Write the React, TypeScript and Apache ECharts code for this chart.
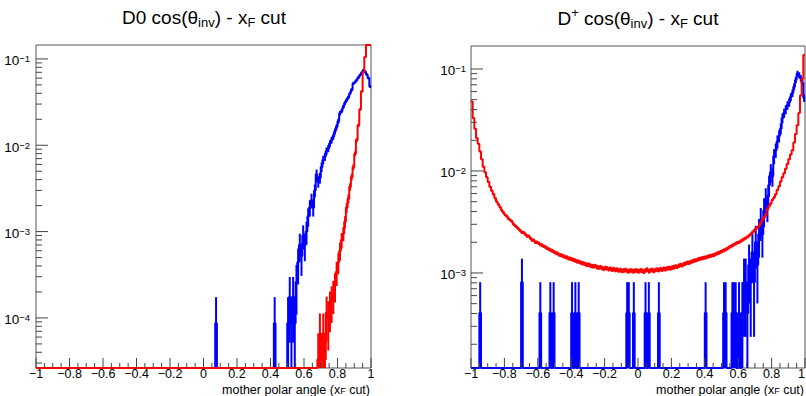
import React, { useEffect, useRef } from "react";
import * as echarts from "echarts";

// ---------- binning ----------
const X_MIN = -1;
const X_MAX = 1;
const BIN_WIDTH = 0.01;
const N_BINS = 200;

// ---------- tick labels ----------
const xTickLabels = [-1, -0.8, -0.6, -0.4, -0.2, 0, 0.2, 0.4, 0.6, 0.8, 1];
const leftYTickLabels = [1e-4, 1e-3, 1e-2, 1e-1];
const rightYTickLabels = [1e-3, 1e-2, 1e-1];

// ---------- texts ----------
const leftTitle = "D0 cos(θ{sub|inv}) - x{sub|F} cut";
const rightTitle = "D{sup|+} cos(θ{sub|inv}) - x{sub|F} cut";
const xAxisTitle = "mother polar angle (x{sub|F} cut)";

// ---------- left panel (D0) ----------
const leftYRange = [2.63e-5, 0.145];
// blue: isolated single-bin entries [bin low edge, value]
const leftBlueSpikes = [
  [0.07, 8.7e-5],
  [0.42, 8.7e-5],
];
const leftBlueStart = 0.5;
const leftBlueValues = [
  8.7e-5, 1.75e-4, 8.7e-5, 1.75e-4, 8.7e-5, 2.6e-4, 4.4e-4, 7.0e-4, 5.2e-4, 9.0e-4,
  7.0e-4, 1.0e-3, 1.5e-3, 1.9e-3, 2.3e-3, 1.9e-3, 3.0e-3, 4.6e-3, 3.8e-3, 4.2e-3,
  5.6e-3, 6.8e-3, 7.4e-3, 8.6e-3, 9.2e-3, 1.05e-2, 1.15e-2, 1.26e-2, 1.45e-2, 1.64e-2,
  1.9e-2, 2.35e-2, 2.5e-2, 2.8e-2, 3.1e-2, 3.35e-2, 3.6e-2, 4.0e-2, 4.4e-2, 5.2e-2,
  5.4e-2, 5.7e-2, 6.1e-2, 6.5e-2, 6.9e-2, 7.4e-2, 7.1e-2, 6.6e-2, 6.0e-2, 4.8e-2,
];
const leftBlueUnit = 8.7e-5; // value of one entry
const leftRedStart = 0.68;
const leftRedValues = [
  3.3e-5, 6.6e-5, 3.3e-5, 6.6e-5, 3.3e-5, 1.15e-4, 9.9e-5, 1.35e-4, 1.6e-4, 1.9e-4,
  2.4e-4, 3.4e-4, 4.4e-4, 6.0e-4, 8.0e-4, 9.5e-4, 1.3e-3, 1.9e-3, 2.4e-3, 3.3e-3,
  4.3e-3, 5.6e-3, 8.0e-3, 1.15e-2, 1.7e-2, 2.6e-2, 4.2e-2, 7.0e-2, 1.05e-1, 1.6e-1,
  2.0e-1, 2.2e-1,
];
const leftRedUnit = 3.3e-5;

// ---------- right panel (D+) ----------
const rightYRange = [1.17e-4, 0.168];
const rightRedStart = -1;
const rightRedValues = [
  0.048, 0.033, 0.026, 0.021, 0.0185, 0.0155, 0.013, 0.011, 0.0097, 0.0087,
  0.0078, 0.007, 0.0064, 0.0059, 0.0054, 0.005, 0.0047, 0.0044, 0.0041, 0.0039,
  0.0037, 0.0036, 0.0034, 0.0033, 0.0032, 0.003, 0.0029, 0.0028, 0.0027, 0.0026,
  0.0025, 0.0025, 0.0024, 0.0023, 0.0023, 0.0022, 0.0021, 0.0021, 0.002, 0.002,
  0.00196, 0.0019, 0.00187, 0.00183, 0.0018, 0.00175, 0.00172, 0.00168, 0.00165, 0.00162,
  0.00158, 0.00156, 0.00152, 0.0015, 0.00148, 0.00146, 0.00143, 0.00142, 0.00139, 0.00138,
  0.00136, 0.00134, 0.00132, 0.0013, 0.00129, 0.00127, 0.00125, 0.00124, 0.00122, 0.0012,
  0.00121, 0.00118, 0.00117, 0.00116, 0.00117, 0.00114, 0.00113, 0.00114, 0.00112, 0.0011,
  0.00112, 0.00111, 0.00109, 0.0011, 0.00108, 0.00109, 0.00107, 0.00108, 0.00106, 0.00107,
  0.00105, 0.00106, 0.00107, 0.00105, 0.00104, 0.00106, 0.00105, 0.00104, 0.00106, 0.00105,
  0.00104, 0.00106, 0.00105, 0.00103, 0.00106, 0.00108, 0.00104, 0.00106, 0.00107, 0.00105,
  0.00107, 0.00108, 0.00107, 0.00109, 0.00108, 0.0011, 0.00109, 0.00111, 0.00112, 0.00111,
  0.00113, 0.00114, 0.00116, 0.00115, 0.00118, 0.0012, 0.00119, 0.00122, 0.00124, 0.00126,
  0.00126, 0.00128, 0.0013, 0.00132, 0.00133, 0.00135, 0.00137, 0.00138, 0.0014, 0.00141,
  0.00142, 0.00144, 0.00146, 0.00147, 0.00149, 0.0015, 0.00153, 0.00156, 0.00158, 0.00161,
  0.00164, 0.00167, 0.0017, 0.00174, 0.00178, 0.00182, 0.00186, 0.0019, 0.00194, 0.00198,
  0.002, 0.00205, 0.0021, 0.00215, 0.0022, 0.00225, 0.00232, 0.0024, 0.0025, 0.0026,
  0.0027, 0.0028, 0.0029, 0.0031, 0.0033, 0.0035, 0.0037, 0.0042, 0.0045, 0.0048,
  0.0052, 0.0055, 0.0059, 0.0065, 0.0071, 0.0079, 0.0087, 0.0095, 0.0105, 0.0117,
  0.013, 0.0145, 0.016, 0.019, 0.023, 0.028, 0.037, 0.055, 0.08, 0.137,
];
const rightRedUnit = 3e-6;
const rightBlueSpikes = [
  [-0.95, 4.06e-4], [-0.7, 8.1e-4], [-0.59, 4.06e-4], [-0.53, 4.06e-4], [-0.51, 4.06e-4],
  [-0.4, 4.06e-4], [-0.38, 4.06e-4], [-0.36, 4.06e-4], [-0.07, 4.06e-4], [-0.06, 4.06e-4],
  [-0.03, 4.06e-4], [0.04, 4.06e-4], [0.06, 4.06e-4], [0.12, 4.06e-4], [0.4, 4.06e-4],
  [0.51, 4.06e-4], [0.52, 4.06e-4], [0.56, 4.06e-4], [0.57, 4.06e-4], [0.58, 4.06e-4],
  [0.6, 4.06e-4],
];
const rightBlueStart = 0.62;
const rightBlueValues = [
  4.06e-4, 8.1e-4, 8.1e-4, 4.06e-4, 1.2e-3, 8.1e-4, 1.6e-3, 8.1e-4,
  2.0e-3, 1.2e-3, 2.4e-3, 3.2e-3, 2.4e-3, 4.1e-3, 5.3e-3, 4.5e-3, 7.3e-3, 9.7e-3,
  8.9e-3, 1.4e-2, 1.6e-2, 1.95e-2, 2.2e-2, 2.6e-2, 3.3e-2, 3.7e-2, 4.0e-2, 4.4e-2,
  4.7e-2, 5.3e-2, 5.8e-2, 6.7e-2, 7.8e-2, 9.0e-2, 8.7e-2, 8.1e-2, 7.3e-2, 5.2e-2,
];
const rightBlueUnit = 4.06e-4;

// ---------- styling ----------
const FONT = '"Liberation Sans", Arial, Helvetica, sans-serif';
const FRAME_COLOR = "#555555";
const TICK_COLOR = "#444444";
const BLUE = "#0000ff";
const RED = "#ff0000";

const binIndex = (x: number) => Math.round((x - X_MIN) / BIN_WIDTH);

function buildBins(start: number | null, values: number[], spikes: number[][]) {
  const bins = new Array(N_BINS).fill(0);
  if (start !== null) {
    const s = binIndex(start);
    values.forEach((v, i) => {
      bins[s + i] = v;
    });
  }
  spikes.forEach(([x, v]) => {
    bins[binIndex(x)] = v;
  });
  return bins;
}

function histSeries(idx: number, range: number[], bins: number[], unit: number, color: string, z: number) {
  const clamp = (v: number) => Math.min(Math.max(v, range[0]), range[1]);
  const stepPts = bins.map((v, i) => [X_MIN + i * BIN_WIDTH, clamp(v)]);
  stepPts.push([X_MAX, clamp(bins[N_BINS - 1])]);
  const errs: number[][] = [];
  bins.forEach((v, i) => {
    if (v > 0) {
      const e = Math.sqrt(v / unit) * unit;
      errs.push([X_MIN + (i + 0.5) * BIN_WIDTH, clamp(v - e), clamp(v + e)]);
    }
  });
  return [
    {
      type: "line",
      xAxisIndex: idx,
      yAxisIndex: idx,
      data: stepPts,
      step: "end",
      showSymbol: false,
      symbol: "none",
      lineStyle: { color, width: 2 },
      itemStyle: { color },
      clip: true,
      silent: true,
      z,
    },
    {
      type: "custom",
      xAxisIndex: idx,
      yAxisIndex: idx,
      coordinateSystem: "cartesian2d",
      data: errs,
      encode: { x: 0, y: [1, 2] },
      silent: true,
      z,
      renderItem: (_params: any, api: any) => {
        const x = api.value(0);
        const p1 = api.coord([x, api.value(1)]);
        const p2 = api.coord([x, api.value(2)]);
        return {
          type: "line",
          shape: { x1: p1[0], y1: p1[1], x2: p2[0], y2: p2[1] },
          style: { stroke: color, lineWidth: 2 },
        };
      },
    },
  ];
}

function tickSeries(idx: number, range: number[]) {
  const xTicks: number[][] = [];
  for (let k = 0; k <= 40; k++) {
    xTicks.push([X_MIN + k * 0.05, range[0], k % 4 === 0 ? 10 : 5]);
  }
  const yTicks: number[][] = [];
  const n0 = Math.floor(Math.log10(range[0]));
  const n1 = Math.ceil(Math.log10(range[1]));
  for (let n = n0; n <= n1; n++) {
    for (let k = 1; k <= 9; k++) {
      const v = k * Math.pow(10, n);
      if (v >= range[0] && v <= range[1]) yTicks.push([X_MIN, v, k === 1 ? 12 : 6]);
    }
  }
  return [
    {
      type: "custom",
      xAxisIndex: idx,
      yAxisIndex: idx,
      coordinateSystem: "cartesian2d",
      data: xTicks,
      encode: { x: 0, y: 1 },
      silent: true,
      z: 10,
      renderItem: (params: any, api: any) => {
        const cs = params.coordSys;
        const px = api.coord([api.value(0), range[0]])[0];
        const by = cs.y + cs.height;
        return {
          type: "line",
          shape: { x1: px, y1: by, x2: px, y2: by - api.value(2) },
          style: { stroke: TICK_COLOR, lineWidth: 1 },
        };
      },
    },
    {
      type: "custom",
      xAxisIndex: idx,
      yAxisIndex: idx,
      coordinateSystem: "cartesian2d",
      data: yTicks,
      encode: { x: 0, y: 1 },
      silent: true,
      z: 10,
      renderItem: (params: any, api: any) => {
        const cs = params.coordSys;
        const py = api.coord([X_MIN, api.value(1)])[1];
        return {
          type: "line",
          shape: { x1: cs.x, y1: py, x2: cs.x + api.value(2), y2: py },
          style: { stroke: TICK_COLOR, lineWidth: 1 },
        };
      },
    },
  ];
}

const fmtX = (v: number) => {
  const r = Math.round(v * 10) / 10;
  return String(r).replace("-", "\u2212");
};
const fmtY = (v: number) => {
  const e = Math.log10(v);
  if (Math.abs(e - Math.round(e)) > 1e-6) return "";
  return "10{sup|\u2212" + Math.abs(Math.round(e)) + "}";
};

function xAxisOpt(idx: number, alignMax: string | null) {
  const label: any = {
    customValues: xTickLabels,
    formatter: fmtX,
    fontFamily: FONT,
    fontSize: 12.5,
    lineHeight: 12,
    color: "#000",
    margin: 0,
  };
  if (alignMax) label.alignMaxLabel = alignMax;
  return {
    type: "value",
    gridIndex: idx,
    min: X_MIN,
    max: X_MAX,
    interval: 0.2,
    axisLine: { show: false },
    axisTick: { show: false },
    splitLine: { show: false },
    axisLabel: label,
  };
}

function yAxisOpt(idx: number, range: number[], labels: number[], margin: number) {
  return {
    type: "log",
    logBase: 10,
    gridIndex: idx,
    min: range[0],
    max: range[1],
    axisLine: { show: false },
    axisTick: { show: false },
    splitLine: { show: false },
    minorTick: { show: false },
    axisLabel: {
      customValues: labels,
      formatter: fmtY,
      fontFamily: FONT,
      fontSize: 13.5,
      lineHeight: 14,
      padding: [4, 0, 0, 0],
      color: "#000",
      margin,
      rich: {
        sup: { fontFamily: FONT, fontSize: 9.5, lineHeight: 7, verticalAlign: "top", color: "#000" },
      },
    },
  };
}

function richText(text: string, x: number, y: number, size: number, subSize: number, subLH: number, align: string, lineH: number) {
  return {
    type: "text",
    x,
    y,
    silent: true,
    style: {
      text,
      fill: "#000",
      fontFamily: FONT,
      fontSize: size,
      lineHeight: lineH,
      align,
      textAlign: align,
      verticalAlign: "middle",
      textVerticalAlign: "middle",
      rich: {
        sub: { fontFamily: FONT, fontSize: subSize, lineHeight: subLH, verticalAlign: "bottom", fill: "#000", color: "#000" },
        sup: { fontFamily: FONT, fontSize: subSize, lineHeight: subLH, verticalAlign: "top", fill: "#000", color: "#000" },
      },
    },
  };
}

export default function App() {
  const ref = useRef<HTMLDivElement>(null);
  useEffect(() => {
    document.body.style.margin = "0";
    if (!ref.current) return;
    const chart = echarts.init(ref.current, null, { renderer: "svg" });

    const lBlue = buildBins(leftBlueStart, leftBlueValues, leftBlueSpikes);
    const lRed = buildBins(leftRedStart, leftRedValues, []);
    const rRed = buildBins(rightRedStart, rightRedValues, []);
    const rBlue = buildBins(rightBlueStart, rightBlueValues, rightBlueSpikes);

    const option: any = {
      animation: false,
      backgroundColor: "#ffffff",
      grid: [
        { left: 36, top: 45, width: 335, height: 323, show: true, borderColor: FRAME_COLOR, borderWidth: 1, backgroundColor: "transparent", outerBoundsMode: "none", containLabel: false },
        { left: 471, top: 46, width: 334, height: 322, show: true, borderColor: FRAME_COLOR, borderWidth: 1, backgroundColor: "transparent", outerBoundsMode: "none", containLabel: false },
      ],
      xAxis: [xAxisOpt(0, null), xAxisOpt(1, "right")],
      yAxis: [yAxisOpt(0, leftYRange, leftYTickLabels, 6), yAxisOpt(1, rightYRange, rightYTickLabels, 5)],
      series: [
        ...histSeries(0, leftYRange, lBlue, leftBlueUnit, BLUE, 2),
        ...histSeries(0, leftYRange, lRed, leftRedUnit, RED, 3),
        ...histSeries(1, rightYRange, rBlue, rightBlueUnit, BLUE, 2),
        ...histSeries(1, rightYRange, rRed, rightRedUnit, RED, 3),
        ...tickSeries(0, leftYRange),
        ...tickSeries(1, rightYRange),
      ],
      graphic: [
        richText(leftTitle, 204, 17, 19, 13, 10, "center", 24),
        richText(rightTitle, 638, 18, 19, 13, 10, "center", 24),
        richText(xAxisTitle, 370, 389.5, 12.5, 9, 7, "right", 12),
        richText(xAxisTitle, 804, 389.5, 12.5, 9, 7, "right", 12),
      ],
    };
    chart.setOption(option);
    return () => chart.dispose();
  }, []);
  return (
    <div
      ref={ref}
      style={{ position: "fixed", left: 0, top: 0, width: 806, height: 396, background: "#fff" }}
    />
  );
}
